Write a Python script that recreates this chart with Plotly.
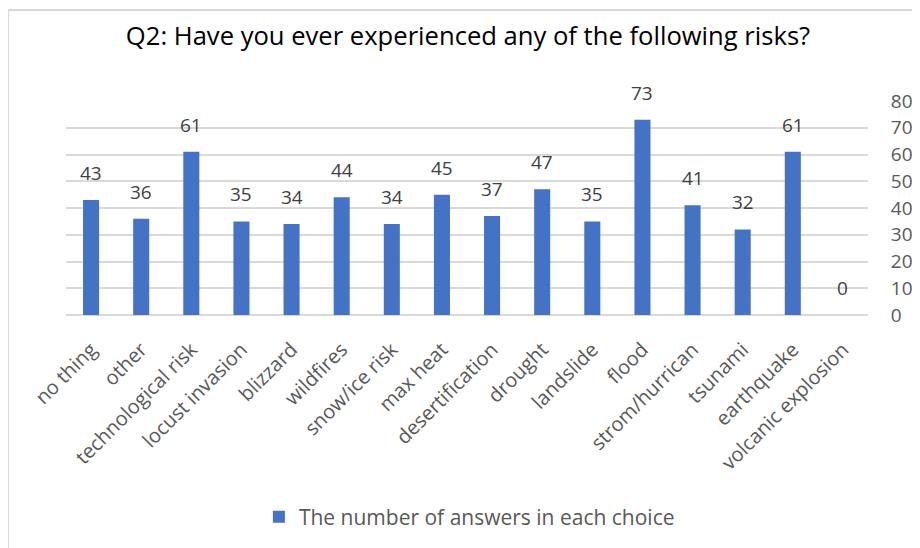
import plotly.graph_objects as go

categories = ["no thing", "other", "technological risk", "locust invasion", "blizzard",
              "wildfires", "snow/ice risk", "max heat", "desertification", "drought",
              "landslide", "flood", "strom/hurrican", "tsunami", "earthquake",
              "volcanic explosion"]
values = [43, 36, 61, 35, 34, 44, 34, 45, 37, 47, 35, 73, 41, 32, 61, 0]
series_name = "The number of answers in each choice"
y_ticks = [0, 10, 20, 30, 40, 50, 60, 70, 80]

FONT = "Open Sans"
OFF = 8  # browser body margin
W, H = 920 - OFF, 548 - OFF
L, T = 66 - OFF, 101 - OFF
R = W - (868 - OFF)
B = H - (315 - OFF)
plot_h = H - T - B
plot_w = W - L - R

fig = go.Figure()
fig.add_trace(go.Bar(
    x=categories, y=values, name=series_name,
    marker=dict(color="#4472C4", line=dict(width=0)),
    showlegend=True,
))

for c, v in zip(categories, values):
    fig.add_annotation(x=c, y=v, text=str(v), showarrow=False,
                       yshift=27, font=dict(family=FONT, size=19, color="#404040"))

# outer chart border (screen px 8,10)
fig.add_shape(type="rect", xref="paper", yref="paper",
              x0=(8 - OFF - L) / plot_w, x1=(W + 20 - L) / plot_w,
              y0=-(H + 20 - T - plot_h) / plot_h, y1=(T + plot_h - (10 - OFF)) / plot_h,
              line=dict(color="#D9D9D9", width=2), fillcolor="rgba(0,0,0,0)", layer="below")

fig.update_layout(
    width=W, height=H,
    margin=dict(l=L, r=R, t=T, b=B, autoexpand=False),
    paper_bgcolor="white", plot_bgcolor="white",
    title=dict(text="Q2: Have you ever experienced any of the following risks?",
               x=(468 - OFF) / W, xanchor="center", xref="container",
               y=1 - (36 - OFF) / H, yanchor="middle",
               font=dict(family=FONT, size=25.6, color="#000000")),
    bargap=0.68,
    showlegend=True,
    legend=dict(orientation="h", x=0.503, xanchor="center",
                y=-(517 - OFF - T - plot_h) / plot_h,
                yanchor="middle", font=dict(family=FONT, size=21, color="#595959"),
                itemwidth=30),
    xaxis=dict(tickangle=-45, tickfont=dict(family=FONT, size=20, color="#595959"),
               showline=False, showgrid=False, ticks="outside", ticklen=14,
               tickcolor="rgba(0,0,0,0)"),
    yaxis=dict(side="right", range=[0, 80], tickvals=y_ticks, showgrid=True,
               gridcolor="#D9D9D9", gridwidth=1.5, zeroline=True, zerolinecolor="#D9D9D9",
               zerolinewidth=1.5, showline=False, ticks="outside", ticklen=18,
               tickcolor="rgba(0,0,0,0)",
               tickfont=dict(family=FONT, size=19, color="#595959")),
)

fig.write_html("out.html")
